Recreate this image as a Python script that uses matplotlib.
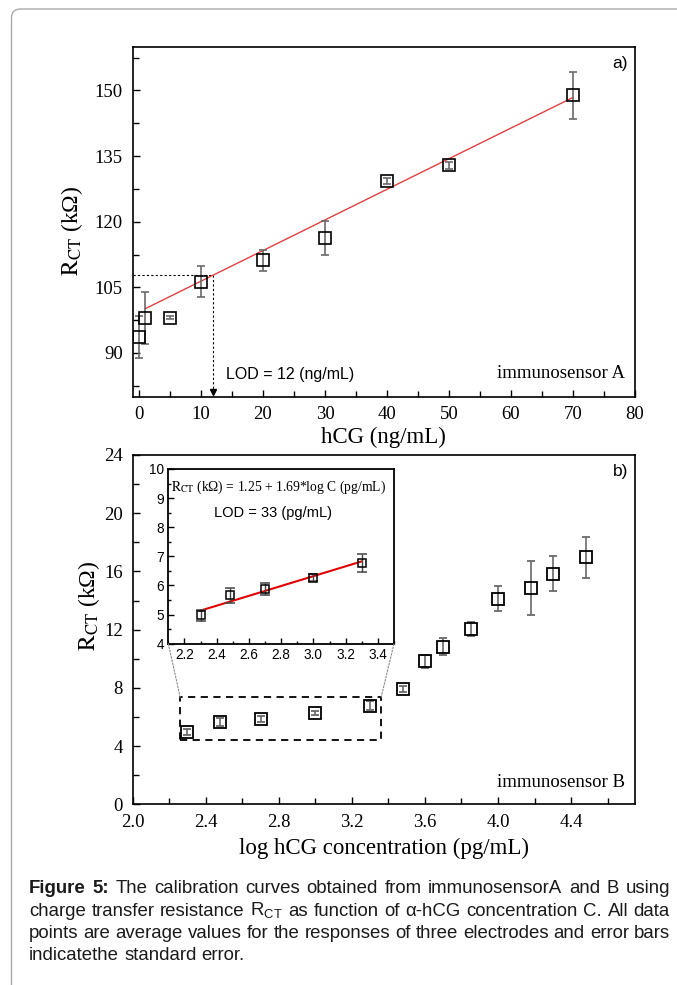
import matplotlib
matplotlib.use('Agg')
import matplotlib.pyplot as plt
import numpy as np
from matplotlib.patches import Rectangle, FancyBboxPatch, ConnectionPatch
from matplotlib.transforms import IdentityTransform
from matplotlib.ticker import MultipleLocator, FixedLocator, FormatStrFormatter

plt.rcParams['font.family'] = ['Liberation Serif', 'DejaVu Serif']
plt.rcParams['mathtext.fontset'] = 'stix'
plt.rcParams['mathtext.rm'] = 'Liberation Sans'
plt.rcParams['mathtext.it'] = 'Liberation Sans:italic'
plt.rcParams['mathtext.bf'] = 'Liberation Sans:bold'

SERIF = 'Liberation Serif'
SANS = 'Liberation Sans'

# ---------------- data: panel a ----------------
hcg_a = [0, 1, 5, 10, 20, 30, 40, 50, 70]
rct_a = [93.6, 98.0, 98.1, 106.3, 111.2, 116.3, 129.4, 132.9, 148.9]
err_a = [4.8, 6.0, 0.3, 3.5, 2.4, 3.9, 0.7, 0.8, 5.4]
fit_a_intercept = 99.4
fit_a_slope = 0.70
fit_a_range = [1, 70]
lod_a = 12
lod_a_rct = 107.8

# ---------------- data: panel b ----------------
logc_b = [2.30, 2.48, 2.70, 3.00, 3.30, 3.48, 3.60, 3.70, 3.85, 4.00, 4.18, 4.30, 4.48]
rct_b = [4.97, 5.67, 5.88, 6.27, 6.77, 7.90, 9.82, 10.83, 12.05, 14.13, 14.84, 15.85, 16.97]
err_b = [0.20, 0.26, 0.20, 0.13, 0.32, 0.20, 0.47, 0.60, 0.50, 0.84, 1.85, 1.20, 1.40]
n_inset = 5
fit_b_intercept = 1.25
fit_b_slope = 1.69
fit_b_range = [2.30, 3.30]
lod_b = 33
zoom_box = [2.26, 4.40, 3.36, 7.35]  # x0, y0, x1, y1

RCT = r'$\mathrm{R}_{\mathrm{CT}}$'
caption_lines = [
    [("Figure 5:", 'bold'), ("The calibration curves obtained from immunosensorA and B using", 'normal')],
    [("charge transfer resistance " + RCT + " as function of \u03b1-hCG concentration C. All data", 'normal')],
    [("points are average values for the responses of three electrodes and error bars", 'normal')],
    [("indicatethe standard error.", 'normal')],
]

W, H = 677, 985
fig = plt.figure(figsize=(W / 100, H / 100), dpi=100)
fig.patch.set_facecolor('white')

# page border with rounded corner
border = FancyBboxPatch((11.5, -40), 800, H - 9 + 40,
                        boxstyle='round,pad=0,rounding_size=9',
                        transform=IdentityTransform(), fill=False,
                        ec='#a9a9a9', lw=1.0)
fig.add_artist(border)

ERR_COL = '#6a6a6a'


def style_main(ax):
    for s in ax.spines.values():
        s.set_linewidth(1.2)
    ax.tick_params(which='both', direction='in', top=False, right=False,
                   width=1.0, labelsize=13.5, pad=7)
    ax.tick_params(which='major', length=5)
    ax.tick_params(which='minor', length=4)
    for lab in ax.get_xticklabels() + ax.get_yticklabels():
        lab.set_fontfamily(SERIF)


# ---------------- panel a ----------------
axA = fig.add_axes([132.7 / W, 1 - 396.7 / H, (635 - 132.7) / W, 350 / H])
axA.set_xlim(-1, 80)
axA.set_ylim(80, 160)
axA.xaxis.set_major_locator(MultipleLocator(10))
axA.xaxis.set_minor_locator(MultipleLocator(5))
axA.yaxis.set_major_locator(FixedLocator([90, 105, 120, 135, 150]))
axA.yaxis.set_minor_locator(FixedLocator([82.5, 97.5, 112.5, 127.5, 142.5, 157.5]))

xf = np.array(fit_a_range, dtype=float)
axA.plot(xf, fit_a_intercept + fit_a_slope * xf, color='#e04040', lw=1.0, zorder=2)
axA.errorbar(hcg_a, rct_a, yerr=err_a, fmt='s', mfc='none', mec='k', ms=8, mew=1.2,
             ecolor=ERR_COL, elinewidth=1.2, capsize=3, capthick=1.2, zorder=3)
axA.plot([-1, lod_a], [lod_a_rct, lod_a_rct], color='k', lw=0.8, ls=(0, (2, 2)), zorder=1)
axA.plot([lod_a, lod_a], [lod_a_rct, 81.2], color='k', lw=0.8, ls=(0, (2, 2)), zorder=1)
axA.plot([lod_a], [81.0], marker='v', color='k', ms=5, zorder=2, clip_on=False)
axA.text(14.0, 85.1, f'LOD = {lod_a} (ng/mL)', fontfamily=SANS, fontsize=11.5,
         ha='left', va='center')
axA.text(0.985, 0.953, 'a)', transform=axA.transAxes, fontfamily=SANS, fontsize=12.5,
         ha='right', va='center')
axA.text(0.981, 0.067, 'immunosensor A', transform=axA.transAxes, fontfamily=SERIF,
         fontsize=13.5, ha='right', va='center')
axA.set_xlabel('hCG (ng/mL)', fontfamily=SERIF, fontsize=16.5)
axA.set_ylabel(RCT + ' (k\u03a9)', fontfamily=SERIF, fontsize=17)
axA.xaxis.set_label_coords(0.5, -0.087)
axA.yaxis.set_label_coords(-0.095, 0.473)
style_main(axA)

# ---------------- panel b ----------------
axB = fig.add_axes([132.7 / W, 1 - 804.3 / H, (635 - 132.7) / W, 349.3 / H])
axB.set_xlim(2.0, 4.75)
axB.set_ylim(0, 24)
axB.xaxis.set_major_locator(MultipleLocator(0.4))
axB.xaxis.set_minor_locator(MultipleLocator(0.2))
axB.yaxis.set_major_locator(MultipleLocator(4))
axB.yaxis.set_minor_locator(MultipleLocator(2))
axB.xaxis.set_major_formatter(FormatStrFormatter('%.1f'))
axB.errorbar(logc_b, rct_b, yerr=err_b, fmt='s', mfc='none', mec='k', ms=8.5, mew=1.3,
             ecolor=ERR_COL, elinewidth=1.2, capsize=3, capthick=1.2, zorder=3)
x0, y0, x1, y1 = zoom_box
axB.add_patch(Rectangle((x0, y0), x1 - x0, y1 - y0, fill=False, ec='k', lw=1.3,
                        ls=(0, (4, 3)), zorder=2))
axB.text(0.987, 0.952, 'b)', transform=axB.transAxes, fontfamily=SANS, fontsize=12.5,
         ha='right', va='center')
axB.text(0.981, 0.062, 'immunosensor B', transform=axB.transAxes, fontfamily=SERIF,
         fontsize=13.5, ha='right', va='center')
axB.set_xlabel('log hCG concentration (pg/mL)', fontfamily=SERIF, fontsize=16.5)
axB.set_ylabel(RCT + ' (k\u03a9)', fontfamily=SERIF, fontsize=17)
axB.xaxis.set_label_coords(0.5, -0.096)
axB.yaxis.set_label_coords(-0.061, 0.568)
style_main(axB)

# ---------------- inset ----------------
axI = fig.add_axes([168.3 / W, 1 - 643.7 / H, (394 - 168.3) / W, 174.7 / H])
axI.set_facecolor('white')
axI.set_xlim(2.1, 3.5)
axI.set_ylim(4, 10)
axI.xaxis.set_major_locator(MultipleLocator(0.2))
axI.xaxis.set_minor_locator(MultipleLocator(0.1))
axI.yaxis.set_major_locator(MultipleLocator(1))
axI.yaxis.set_minor_locator(MultipleLocator(0.5))
axI.xaxis.set_major_formatter(FormatStrFormatter('%.1f'))
xi = np.array(fit_b_range)
axI.plot(xi, fit_b_intercept + fit_b_slope * xi, color='#e00000', lw=1.5, zorder=2)
axI.errorbar(logc_b[:n_inset], rct_b[:n_inset], yerr=err_b[:n_inset], fmt='s', mfc='none',
             mec='k', ms=6, mew=1.1, ecolor='#444444', elinewidth=1.0, capsize=3.5,
             capthick=1.0, zorder=3)
for s in axI.spines.values():
    s.set_linewidth(1.3)
axI.tick_params(which='both', direction='in', top=False, right=False, width=1.0,
                labelsize=9.8, pad=3)
axI.tick_params(which='major', length=4)
axI.tick_params(which='minor', length=2.5)
for lab in axI.get_xticklabels() + axI.get_yticklabels():
    lab.set_fontfamily(SANS)
axI.text(0.012, 0.893,
         RCT + ' (k\u03a9) = ' + f'{fit_b_intercept:.2f} + {fit_b_slope:.2f}*log C (pg/mL)',
         transform=axI.transAxes, fontfamily=SERIF, fontsize=9.8, ha='left', va='center')
axI.text(0.4635, 0.746, f'LOD = {lod_b} (pg/mL)', transform=axI.transAxes, fontfamily=SANS,
         fontsize=10.5, ha='center', va='center')

for (xa, xb) in [((x0, y1), (0, 0)), ((x1, y1), (1, 0))]:
    con = ConnectionPatch(xyA=xa, coordsA=axB.transData, xyB=xb, coordsB=axI.transAxes,
                          color='#888888', lw=0.8, ls=(0, (1.5, 1.5)))
    fig.add_artist(con)

# ---------------- caption (justified) ----------------
renderer = fig.canvas.get_renderer()
cap_left, cap_right = 29, 670
baselines = [893, 915.5, 938, 960.5]
cap_size = 13.4


def text_width(s, weight='normal'):
    t = fig.text(0, 0, s, fontfamily=SANS, fontsize=cap_size, fontweight=weight,
                 math_fontfamily='custom')
    w = t.get_window_extent(renderer).width
    t.remove()
    return w


sp_w = text_width('a b') - text_width('ab')
for li, (line, yb) in enumerate(zip(caption_lines, baselines)):
    words = []
    for chunk, weight in line:
        for w in chunk.split(' '):
            words.append((w, weight))
    texts = []
    for w, weight in words:
        t = fig.text(0, 1 - yb / H, w, fontfamily=SANS, fontsize=cap_size, fontweight=weight,
                     ha='left', va='baseline', math_fontfamily='custom', color='#1a1a1a')
        texts.append(t)
    widths = [t.get_window_extent(renderer).width for t in texts]
    if li < len(caption_lines) - 1 and len(texts) > 1:
        gap = (cap_right - cap_left - sum(widths)) / (len(texts) - 1)
    else:
        gap = sp_w
    x = cap_left
    for t, w in zip(texts, widths):
        t.set_x(x / W)
        x += w + gap

fig.savefig('out.png', dpi=100)
